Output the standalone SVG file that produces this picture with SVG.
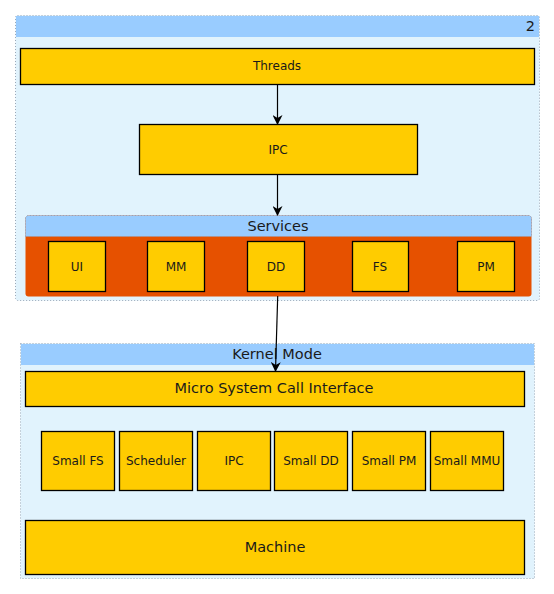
<svg xmlns="http://www.w3.org/2000/svg" width="554" height="594" viewBox="0 0 554 594">
<defs>
<style>
.cont{fill:#E1F3FD;stroke:#9AA8B8;stroke-width:1;stroke-dasharray:1,2}
.hdr{fill:#99CCFF}
.box{fill:#FFCC00;stroke:#000;stroke-width:1.3}
.t{font-family:"DejaVu Sans",Verdana,sans-serif;font-size:12px;fill:#1a1a1a;text-anchor:middle}
.tl{font-family:"DejaVu Sans",Verdana,sans-serif;font-size:14.5px;fill:#1a1a1a;text-anchor:middle}
.edge{stroke:#000;stroke-width:1.2;fill:none}
</style>
<marker id="arr" markerWidth="10" markerHeight="10" refX="9" refY="5" orient="auto" markerUnits="userSpaceOnUse">
<path d="M0,0 L10,5 L0,10 L3,5 Z" fill="#000"/>
</marker>
</defs>
<rect width="554" height="594" fill="#fff"/>
<g id="user">
<rect class="cont" x="15.5" y="15.5" width="524" height="285" rx="2"/>
<rect class="hdr" x="16" y="16" width="523" height="21"/>
<text class="tl" x="535" y="31" style="text-anchor:end">2</text>
</g>
<g id="threads">
<rect class="box" x="20.5" y="48.5" width="514" height="36"/>
<text class="t" x="277" y="70">Threads</text>
</g>
<g id="ipc_user">
<rect class="box" x="139.5" y="124.5" width="278" height="50"/>
<text class="t" x="278" y="154">IPC</text>
</g>
<g id="services">
<rect x="25.5" y="215.5" width="506" height="81" rx="3" fill="#E65100"/>
<path d="M25.5,236.5 V218.5 a3,3 0 0 1 3,-3 H528.5 a3,3 0 0 1 3,3 V236.5 Z" fill="#99CCFF" stroke="#8a9bb0" stroke-width="0.8" stroke-dasharray="1,2"/>
<text class="tl" x="278" y="231">Services</text>
</g>
<g id="ui"><rect class="box" x="48.5" y="241.5" width="57" height="50"/><text class="t" x="77" y="271">UI</text></g>
<g id="mm"><rect class="box" x="147.5" y="241.5" width="57" height="50"/><text class="t" x="176" y="271">MM</text></g>
<g id="dd"><rect class="box" x="247.5" y="241.5" width="57" height="50"/><text class="t" x="276" y="271">DD</text></g>
<g id="fs"><rect class="box" x="352.5" y="241.5" width="56" height="50"/><text class="t" x="380" y="271">FS</text></g>
<g id="pm"><rect class="box" x="457.5" y="241.5" width="57" height="50"/><text class="t" x="486" y="271">PM</text></g>
<g id="kernel">
<rect class="cont" x="20.5" y="343.5" width="514" height="235"/>
<rect class="hdr" x="21" y="344" width="513" height="21"/>
<text class="tl" x="277" y="359">Kernel Mode</text>
</g>
<g id="msci">
<rect class="box" x="25.5" y="371.5" width="499" height="35"/>
<text class="tl" x="274" y="393">Micro System Call Interface</text>
</g>
<g id="smallfs"><rect class="box" x="41.5" y="431.5" width="73" height="59"/><text class="t" x="78" y="465">Small FS</text></g>
<g id="scheduler"><rect class="box" x="119.5" y="431.5" width="73" height="59"/><text class="t" x="156" y="465">Scheduler</text></g>
<g id="ipc_kernel"><rect class="box" x="197.5" y="431.5" width="73" height="59"/><text class="t" x="234" y="465">IPC</text></g>
<g id="smalldd"><rect class="box" x="274.5" y="431.5" width="73" height="59"/><text class="t" x="311" y="465">Small DD</text></g>
<g id="smallpm"><rect class="box" x="352.5" y="431.5" width="73" height="59"/><text class="t" x="389" y="465">Small PM</text></g>
<g id="smallmmu"><rect class="box" x="430.5" y="431.5" width="73" height="59"/><text class="t" x="467" y="465">Small MMU</text></g>
<g id="machine">
<rect class="box" x="25.5" y="520.5" width="499" height="54"/>
<text class="tl" x="275" y="552">Machine</text>
</g>
<g id="connectors">
<line class="edge" x1="277.5" y1="85" x2="277.5" y2="124" marker-end="url(#arr)"/>
<line class="edge" x1="277.5" y1="175" x2="277.5" y2="215" marker-end="url(#arr)"/>
<line class="edge" x1="277.7" y1="296" x2="275.5" y2="371" marker-end="url(#arr)"/>
</g>
</svg>
